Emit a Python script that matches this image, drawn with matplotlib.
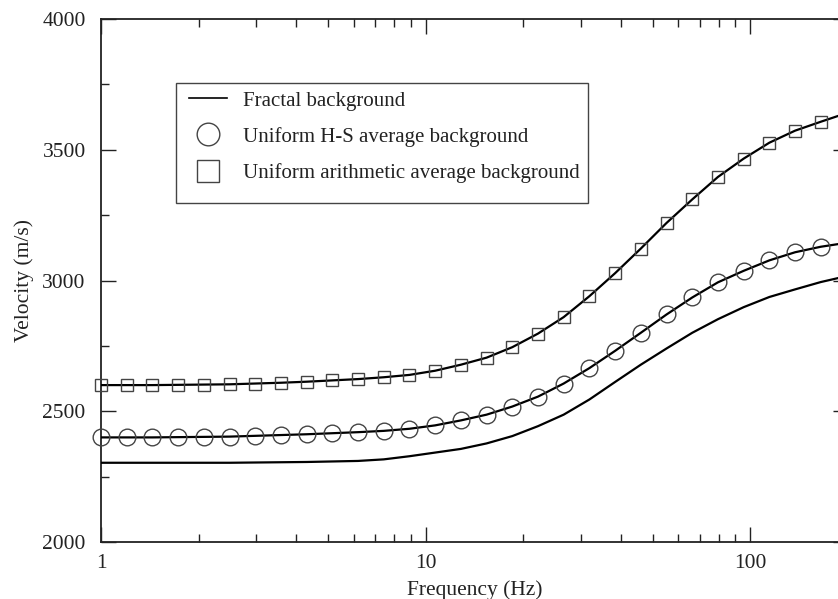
import matplotlib
matplotlib.use("Agg")
import matplotlib.pyplot as plt
from matplotlib.lines import Line2D
from matplotlib.patches import Rectangle
from matplotlib.ticker import LogLocator, NullFormatter, FixedLocator, MultipleLocator

plt.rcParams['font.family'] = ['Liberation Serif', 'DejaVu Serif']

# ---- data ----
freq = [1, 1.2, 1.44, 1.728, 2.074, 2.488, 2.986, 3.583, 4.300, 5.160, 6.192,
        7.430, 8.916, 10.70, 12.84, 15.41, 18.49, 22.19, 26.62, 31.95, 38.34,
        46.00, 55.21, 66.25, 79.50, 95.40, 114.5, 137.4, 164.8]
freq_end = 200

fractal = [2303, 2303, 2303, 2303, 2303, 2303, 2304, 2305, 2306, 2308, 2310,
           2316, 2328, 2342, 2356, 2377, 2405, 2443, 2487, 2545, 2612,
           2678, 2740, 2800, 2852, 2898, 2937, 2966, 2994]
fractal_end = 3018

hs_avg = [2400, 2400, 2400, 2401, 2402, 2403, 2406, 2409, 2412, 2416, 2420,
          2425, 2433, 2446, 2465, 2487, 2518, 2556, 2606, 2665, 2731,
          2800, 2870, 2935, 2993, 3037, 3077, 3108, 3129]
hs_end = 3145

arith_avg = [2600, 2600, 2600, 2601, 2602, 2603, 2606, 2609, 2613, 2618, 2623,
             2630, 2639, 2655, 2678, 2705, 2745, 2797, 2860, 2940, 3028,
             3122, 3220, 3310, 3396, 3466, 3527, 3573, 3607]
arith_end = 3642

labels = ["Fractal background",
          "Uniform H-S average background",
          "Uniform arithmetic average background"]

# ---- figure ----
W, H = 838, 599
fig = plt.figure(figsize=(W / 100, H / 100), dpi=100)
ax = fig.add_axes([101 / W, (H - 542) / H, (848 - 101) / W, (542 - 19) / H])

lw = 1.6
mec = '#444444'
ax.plot(freq + [freq_end], fractal + [fractal_end], color='black', lw=lw, zorder=3)
ax.plot(freq + [freq_end], hs_avg + [hs_end], color='black', lw=lw, zorder=3)
ax.plot(freq + [freq_end], arith_avg + [arith_end], color='black', lw=lw, zorder=3)
ax.plot(freq, hs_avg, linestyle='none', marker='o', ms=12, mfc='none',
        mec=mec, mew=1.0, zorder=4, clip_on=False)
ax.plot(freq, arith_avg, linestyle='none', marker='s', ms=9, mfc='none',
        mec=mec, mew=1.0, zorder=4, clip_on=False)

ax.set_xscale('log')
ax.set_xlim(1, 200)
ax.set_ylim(2000, 4000)
ax.xaxis.set_major_locator(FixedLocator([1, 10, 100]))
ax.set_xticklabels(['1', '10', '100'])
ax.xaxis.set_minor_locator(LogLocator(base=10, subs=range(2, 10), numticks=20))
ax.xaxis.set_minor_formatter(NullFormatter())
ax.yaxis.set_major_locator(MultipleLocator(500))
ax.yaxis.set_minor_locator(MultipleLocator(250))

ax.tick_params(which='both', direction='in', top=True, right=True,
               width=1.0, color='#222222', labelsize=15.5, labelcolor='#222222')
ax.tick_params(which='major', length=11)
ax.tick_params(which='minor', length=5.5)
ax.tick_params(axis='y', which='major', pad=11)
ax.tick_params(axis='x', which='major', pad=8.5)
for s in ax.spines.values():
    s.set_linewidth(1.3)
    s.set_color('#222222')

ax.set_xlabel('Frequency (Hz)', fontsize=15.5, color='#222222', labelpad=5.5)
ax.set_ylabel('Velocity (m/s)', fontsize=15.5, color='#222222', labelpad=6)

# ---- legend ----
handles = [
    Line2D([], [], color='black', lw=1.2),
    Line2D([], [], linestyle='none', marker='o', ms=16.3, mfc='none', mec=mec, mew=1.0),
    Line2D([], [], linestyle='none', marker='s', ms=16.0, mfc='none', mec=mec, mew=1.0),
]
leg = fig.legend(handles, labels, loc='upper left',
                 bbox_to_anchor=(189 / W, 1 - 91 / H),
                 frameon=False, fontsize=15, handlelength=1.83,
                 handletextpad=0.75, labelspacing=0.78, borderpad=0.0,
                 borderaxespad=0.0, labelcolor='#222222')
fig.add_artist(Rectangle((176 / W, 1 - 203 / H), (588 - 176) / W, (203 - 83) / H,
                         transform=fig.transFigure, fill=False,
                         edgecolor='#444444', linewidth=1.0))

fig.savefig('out.png', dpi=100)
